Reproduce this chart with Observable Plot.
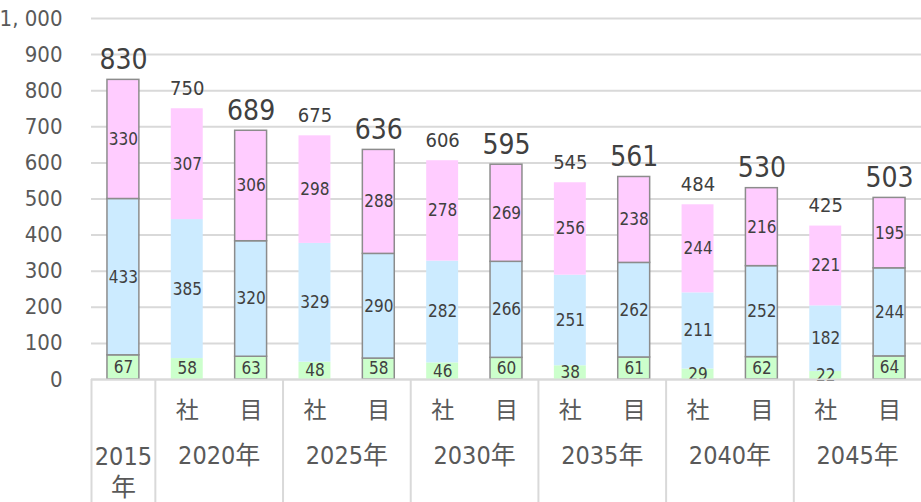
<!DOCTYPE html>
<html>
<head>
<meta charset="utf-8">
<script src="https://cdn.jsdelivr.net/npm/d3@7"></script>
<script src="https://cdn.jsdelivr.net/npm/@observablehq/plot@0.6"></script>
<style>
  html, body { margin: 0; padding: 0; background: #fff; }
  #chart svg { display: block; font-stretch: condensed; }
  #chart svg text { font-stretch: condensed; }
</style>
</head>
<body>
<div id="chart"></div>
<script>
// ---- data ----
const years   = ["2015", "2020", "2020", "2025", "2025", "2030", "2030", "2035", "2035", "2040", "2040", "2045", "2045"];
const kinds   = ["",     "社",   "目",   "社",   "目",   "社",   "目",   "社",   "目",   "社",   "目",   "社",   "目"];
const green   = [67, 58, 63, 48, 58, 46, 60, 38, 61, 29, 62, 22, 64];
const blue    = [433, 385, 320, 329, 290, 282, 266, 251, 262, 211, 252, 182, 244];
const pink    = [330, 307, 306, 298, 288, 278, 269, 256, 238, 244, 216, 221, 195];
const totals  = [830, 750, 689, 675, 636, 606, 595, 545, 561, 484, 530, 425, 503];
const yTicks  = [0, 100, 200, 300, 400, 500, 600, 700, 800, 900, 1000];
const yTickLabels = ["0", "100", "200", "300", "400", "500", "600", "700", "800", "900", "1, 000"];
const groupLabels = ["2015\n年", "2020年", "2025年", "2030年", "2035年", "2040年", "2045年"];

// ---- build tables ----
const keys = years.map((y, i) => y + kinds[i]);
const seriesNames = ["green", "blue", "pink"];
const seriesVals = {green, blue, pink};
const colors = {green: "#CCFFCC", blue: "#CCEBFF", pink: "#FFCCFF"};
const segs = [];
keys.forEach((k, i) => {
  let base = 0;
  for (const s of seriesNames) {
    const v = seriesVals[s][i];
    segs.push({key: k, kind: kinds[i], series: s, v, y1: base, y2: base + v, mid: base + v / 2});
    base += v;
  }
});
const bars = keys.map((k, i) => ({key: k, kind: kinds[i], total: totals[i], year: years[i]}));
const groupStarts = bars.filter(d => d.kind !== "目");
groupStarts.forEach((d, i) => d.label = groupLabels[i]);

const W = 921, H = 502, ML = 91, MR = 0, MT = 18, MB = 123;
const step = (W - ML - MR) / keys.length;
const font = "'DejaVu Sans Condensed', 'DejaVu Sans', 'Noto Sans CJK JP', sans-serif";

const plot = Plot.plot({
  width: W, height: H,
  marginLeft: ML, marginRight: MR, marginTop: MT, marginBottom: MB,
  style: {fontFamily: font, background: "#fff", overflow: "visible"},
  x: {domain: keys, paddingInner: 0.5, paddingOuter: 0.25, round: false, axis: null},
  y: {domain: [0, 1000], axis: null},
  marks: [
    Plot.ruleY(yTicks, {y: d => d, stroke: "#d9d9d9", strokeWidth: 2}),
    Plot.text(yTicks, {y: d => d, text: (d, i) => yTickLabels[i], frameAnchor: "left", textAnchor: "end", dx: -29, fontSize: 22, fill: "#595959"}),
    // table lines
    Plot.ruleX(groupStarts, {x: "key", dx: -step / 2, y1: 0, y2: -400, stroke: "#d9d9d9", strokeWidth: 2}),
    // bars: 社 without border
    Plot.rectY(segs.filter(d => d.kind === "社"), {x: "key", y1: "y1", y2: "y2", fill: d => colors[d.series]}),
    Plot.rectY(segs.filter(d => d.kind !== "社"), {x: "key", y1: "y1", y2: "y2", fill: d => colors[d.series], stroke: "#8c8c8c", strokeWidth: 1.5}),
    // segment labels
    Plot.text(segs, {x: "key", y: "mid", text: d => String(d.v), fontSize: 17, fill: "#404040"}),
    // totals
    Plot.text(bars.filter(d => d.kind === "社"), {x: "key", y: "total", text: d => String(d.total), lineAnchor: "bottom", dy: -14, fontSize: 20, fill: "#404040"}),
    Plot.text(bars.filter(d => d.kind !== "社"), {x: "key", y: "total", text: d => String(d.total), lineAnchor: "bottom", dy: -11, fontSize: 28, fill: "#404040"}),
    // table labels
    Plot.text(bars.filter(d => d.kind !== ""), {x: "key", y: 0, text: "kind", dy: 31, fontSize: 23, fill: "#595959"}),
    Plot.text(groupStarts.filter(d => d.kind === "社"), {x: "key", y: 0, text: "label", dx: step / 2, dy: 76, fontSize: 25, fill: "#595959"}),
    Plot.text(groupStarts.filter(d => d.kind === ""), {x: "key", y: 0, text: "label", dy: 91, lineHeight: 1.25, fontSize: 25, fill: "#595959"}),
    Plot.ruleY([0], {stroke: "#d9d9d9", strokeWidth: 2})
  ]
});
document.getElementById("chart").appendChild(plot);
</script>
</body>
</html>
